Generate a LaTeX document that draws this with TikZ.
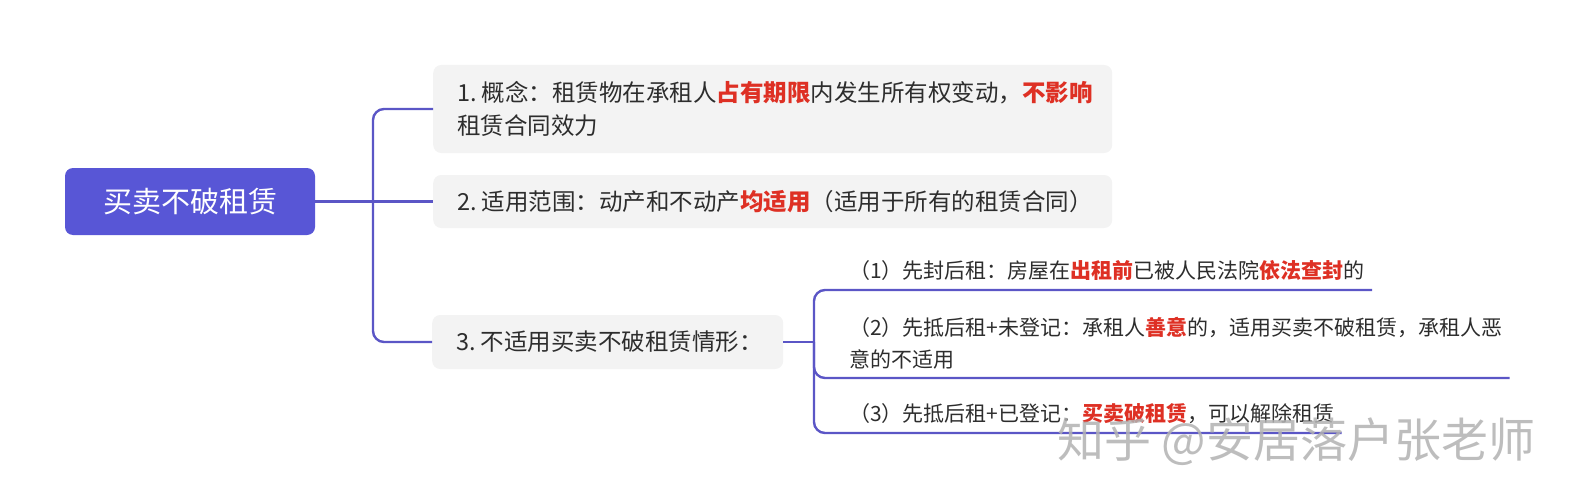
\documentclass[tikz,border=0pt]{standalone}
\usepackage{fontspec}
\setmainfont{Noto Sans CJK SC}
\usetikzlibrary{positioning}

\definecolor{linkc}{RGB}{91,86,198}
\definecolor{rootc}{RGB}{88,86,214}
\definecolor{keyc}{RGB}{222,48,36}
\definecolor{boxc}{RGB}{243,243,243}
\definecolor{txtc}{RGB}{45,45,45}
\newcommand{\key}[1]{\textbf{\textcolor{keyc}{#1}}}

\tikzset{
  topic/.style={fill=rootc, text=white, rounded corners=8pt, minimum width=250pt, minimum height=67pt, font=\fontsize{29pt}{34pt}\selectfont},
  card/.style={fill=boxc, text=txtc, rounded corners=8pt, anchor=west, inner xsep=24pt, align=left, font=\fontsize{23.5pt}{33pt}\selectfont},
  leaf/.style={text=txtc, anchor=south west, inner xsep=0pt, inner ysep=9pt, align=left, font=\fontsize{21pt}{32pt}\selectfont},
  link/.style={draw=linkc, line width=2.4pt, rounded corners=11pt}
}

\begin{document}
\begin{tikzpicture}[x=1pt, y=-1pt]
\useasboundingbox (0,0) rectangle (1573,500);

\node[topic] (0) at (190,201.5) {买卖不破租赁};
\node[card, text width=631pt, minimum height=88pt] (1) at (433,109) {1.\kern5pt概念：租赁物在承租人\key{占有期限}内发生所有权变动，\key{不影响}\\租赁合同效力};
\node[card, text width=631pt, minimum height=53pt] (2) at (433,201.5) {2.\kern5pt适用范围：动产和不动产\key{均适用}（适用于所有的租赁合同）};
\node[card, text width=303pt, minimum height=54pt] (3) at (432,342) {3.\kern5pt不适用买卖不破租赁情形：};

\node[leaf] (31) at (849,290) {（1）先封后租：房屋在\key{出租前}已被人民法院\key{依法查封}的};
\node[leaf] (32) at (849,378) {（2）先抵后租+未登记：承租人\key{善意}的，适用买卖不破租赁，承租人恶\\意的不适用};
\node[leaf] (33) at (849,433) {（3）先抵后租+已登记：\key{买卖破租赁}，可以解除租赁};

% connectors
\coordinate (j) at (373,201.5);
\coordinate (k) at (814,342);
\draw[link] (0) -- (2);
\draw[link] (j) |- (1);
\draw[link] (j) |- (3);
\draw[link] (3) -- (k);
\draw[link] (k) |- ([xshift=7pt]31.south east);
\draw[link] (k) |- ([xshift=7pt]32.south east);
\draw[link] (k) |- ([xshift=7pt]33.south east);

% watermark
\node[text=gray!60, font=\fontsize{47pt}{52pt}\selectfont, opacity=0.85] (wm) at (1296,442) {知乎 @安居落户张老师};
\end{tikzpicture}
\end{document}
